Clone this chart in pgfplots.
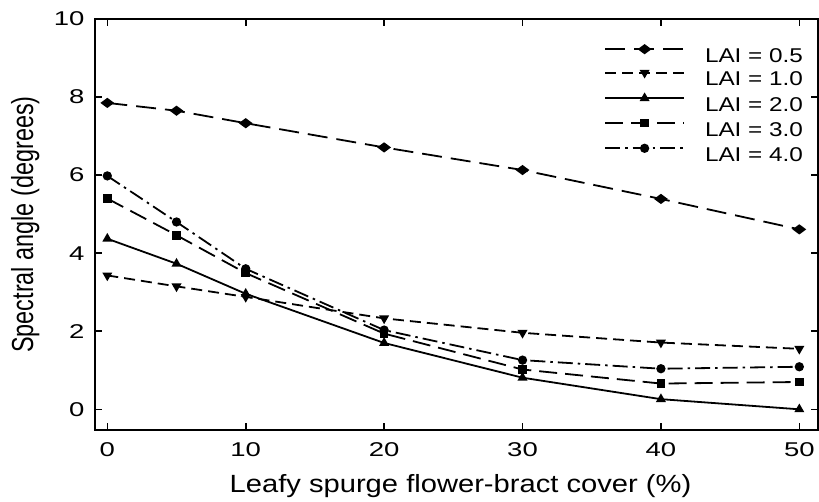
\documentclass[border=0pt]{standalone}
\usepackage{fontspec}
\setmainfont{Liberation Sans}
\newfontfamily\tickfont[FakeStretch=1.38]{Liberation Sans}
\newfontfamily\legfont[FakeStretch=1.22]{Liberation Sans}
\newfontfamily\labfont[FakeStretch=1.17]{Liberation Sans}
\usepackage{pgfplots}
\pgfplotsset{compat=1.18}
\usepackage{pgfplotstable}

\pgfplotstableread{
x   a    b    c    d    e
0   7.85 3.43 4.37 5.40 5.98
5   7.65 3.15 3.73 4.46 4.80
10  7.33 2.88 2.96 3.49 3.60
20  6.71 2.33 1.70 1.94 2.03
30  6.13 1.96 0.81 1.02 1.26
40  5.39 1.71 0.26 0.66 1.04
50  4.61 1.55 0.00 0.70 1.09
}\datatable

\begin{document}
\begin{tikzpicture}
\begin{axis}[
  scale only axis,
  width=723bp, height=411bp,
  xmin=-0.89, xmax=51.35,
  ymin=-0.53, ymax=10,
  xtick={0,10,...,50},
  ytick={0,2,...,10},
  axis line style={line width=2.5bp},
  tick style={line width=1.6bp, black},
  major tick length=7bp,
  /pgf/number format/assume math mode=true,
  xticklabel style={font=\tickfont\fontsize{20}{20}\selectfont, yshift=-9bp},
  yticklabel style={font=\tickfont\fontsize{20}{20}\selectfont, xshift=-7bp},
  xlabel={Leafy spurge flower-bract cover (\%)},
  xlabel style={font=\labfont\fontsize{25}{25}\selectfont, at={(axis description cs:0.5,0)}, anchor=base, yshift=-62bp, xshift=4bp},
  ylabel={\scalebox{1}[1.3]{Spectral angle (degrees)}},
  ylabel style={font=\fontsize{23.5}{23.5}\selectfont, at={(axis description cs:-0.0855,0.5)}, anchor=base},
  legend cell align=left,
  legend style={draw=none, fill=none, at={(axis description cs:1,1)}, anchor=north west,
    xshift=-214bp, yshift=-26bp, inner sep=0pt, row sep=5.3bp, column sep=20bp,
    font=\legfont\fontsize{20}{20}\selectfont,
    nodes={inner sep=0pt, text height=15bp, text depth=3bp}},
  legend image code/.code={\draw[mark repeat=2,mark phase=2,#1] plot coordinates {(0bp,7.2bp) (39.5bp,7.2bp) (79bp,7.2bp)};},
  every axis plot/.append style={line width=1.8bp, black},
]
\addplot[dash pattern=on 20bp off 9bp, mark=diamond*, mark size=4bp, mark options={solid, xscale=1.8}] table[x=x,y=a] {\datatable};
\addlegendentry{LAI = 0.5}
\addplot[dash pattern=on 11bp off 6bp, mark=triangle*, mark size=4bp, mark options={solid, rotate=180}] table[x=x,y=b] {\datatable};
\addlegendentry{LAI = 1.0}
\addplot[solid, mark=triangle*, mark size=4bp, mark options={solid}] table[x=x,y=c] {\datatable};
\addlegendentry{LAI = 2.0}
\addplot[dash pattern=on 18bp off 8bp, mark=square*, mark size=3.4bp, mark options={solid}] table[x=x,y=d] {\datatable};
\addlegendentry{LAI = 3.0}
\addplot[dash pattern=on 15bp off 5bp on 2.5bp off 5bp, mark=*, mark size=3.7bp, mark options={solid}] table[x=x,y=e] {\datatable};
\addlegendentry{LAI = 4.0}
\end{axis}
\pgfresetboundingbox
\path ([shift={(-95bp,-72bp)}]current axis.south west) rectangle ++(819bp,502bp);
\end{tikzpicture}
\end{document}
